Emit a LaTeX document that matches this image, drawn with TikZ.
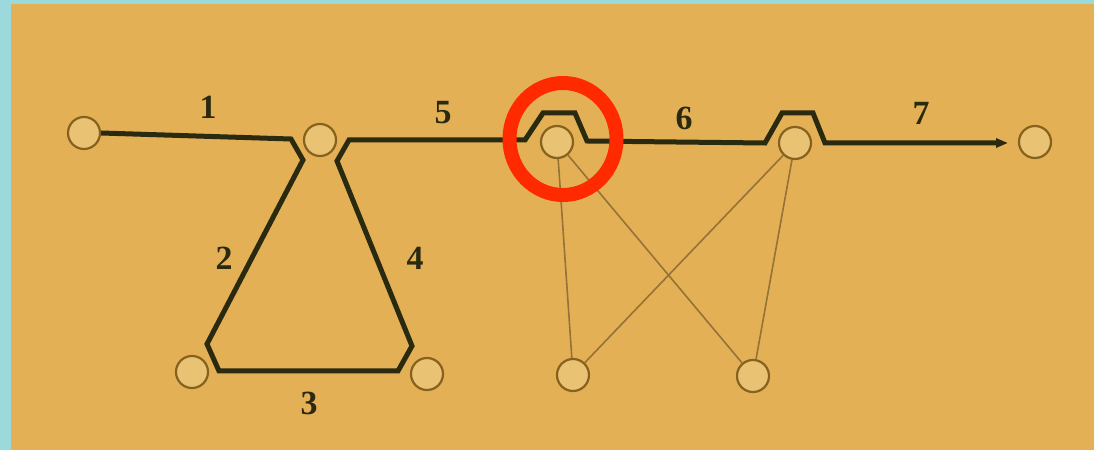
\documentclass[tikz,border=0pt]{standalone}
\usepackage{fontspec}
\setmainfont{Liberation Serif}
\usetikzlibrary{arrows.meta}
\definecolor{paper}{HTML}{E4B055}
\definecolor{frameblue}{HTML}{9BD9DD}
\definecolor{ink}{HTML}{2A2A10}
\definecolor{ringbrown}{HTML}{86621E}
\definecolor{thinbrown}{HTML}{957238}
\definecolor{nodefill}{HTML}{E9C274}
\definecolor{redring}{HTML}{FF2A00}
\begin{document}
\begin{tikzpicture}[x=1bp,y=-1bp,
  vertex/.style={circle,draw=ringbrown,fill=nodefill,line width=2.2bp,minimum size=32bp,inner sep=0pt},
  mainpath/.style={draw=ink,line width=5bp,line join=miter,line cap=butt},
  weak/.style={draw=thinbrown,line width=1.6bp},
  lbl/.style={font=\fontsize{34}{34}\selectfont\bfseries,text=ink,inner sep=0pt}]
\useasboundingbox (0,0) rectangle (1094,450);
\fill[frameblue] (0,0) rectangle (1094,450);
\fill[paper] (11,4) rectangle (1094,450);
% nodes
\node[vertex] (A) at (84,133) {};
\node[vertex] (B) at (320,140) {};
\node[vertex] (C) at (557,142) {};
\node[vertex] (D) at (795,143) {};
\node[vertex] (E) at (1035,142) {};
\node[vertex] (F) at (192,372) {};
\node[vertex] (G) at (427,374) {};
\node[vertex] (H) at (573,375) {};
\node[vertex] (I) at (753,376) {};
% thin connectors
\draw[weak] (C) -- (H);
\draw[weak] (C) -- (I);
\draw[weak] (D) -- (H);
\draw[weak] (D) -- (I);
% main path
\coordinate (k1) at (291,139);
\coordinate (k2) at (303,160);
\coordinate (k3) at (207,344);
\coordinate (k4) at (219,371);
\coordinate (k5) at (398,371);
\coordinate (k6) at (412,346);
\coordinate (k7) at (337,161);
\coordinate (k8) at (349,140);
\coordinate (b1) at (525,140);
\coordinate (b2) at (543,113);
\coordinate (b3) at (575,113);
\coordinate (b4) at (587,141);
\coordinate (b5) at (765,143);
\coordinate (b6) at (782,113);
\coordinate (b7) at (813,113);
\coordinate (b8) at (825,143);
\coordinate (tip) at (1008,143);
\draw[mainpath,-{Triangle[length=12bp,width=9bp]}] (A.east) -- (k1) -- (k2) -- (k3) -- (k4) -- (k5) -- (k6) -- (k7) -- (k8) -- (b1) -- (b2) -- (b3) -- (b4) -- (b5) -- (b6) -- (b7) -- (b8) -- (tip);
% labels
\node[lbl] (l1) at (208,107) {1};
\node[lbl] (l2) at (224,258) {2};
\node[lbl] (l3) at (309,403) {3};
\node[lbl] (l4) at (415,258) {4};
\node[lbl] (l5) at (443,113) {5};
\node[lbl] (l6) at (684,118) {6};
\node[lbl] (l7) at (921,113) {7};
% red highlight ring
\draw[draw=redring,line width=14bp] (C.center) ++(6,-3) ellipse [x radius=53.5, y radius=56];
\end{tikzpicture}
\end{document}
